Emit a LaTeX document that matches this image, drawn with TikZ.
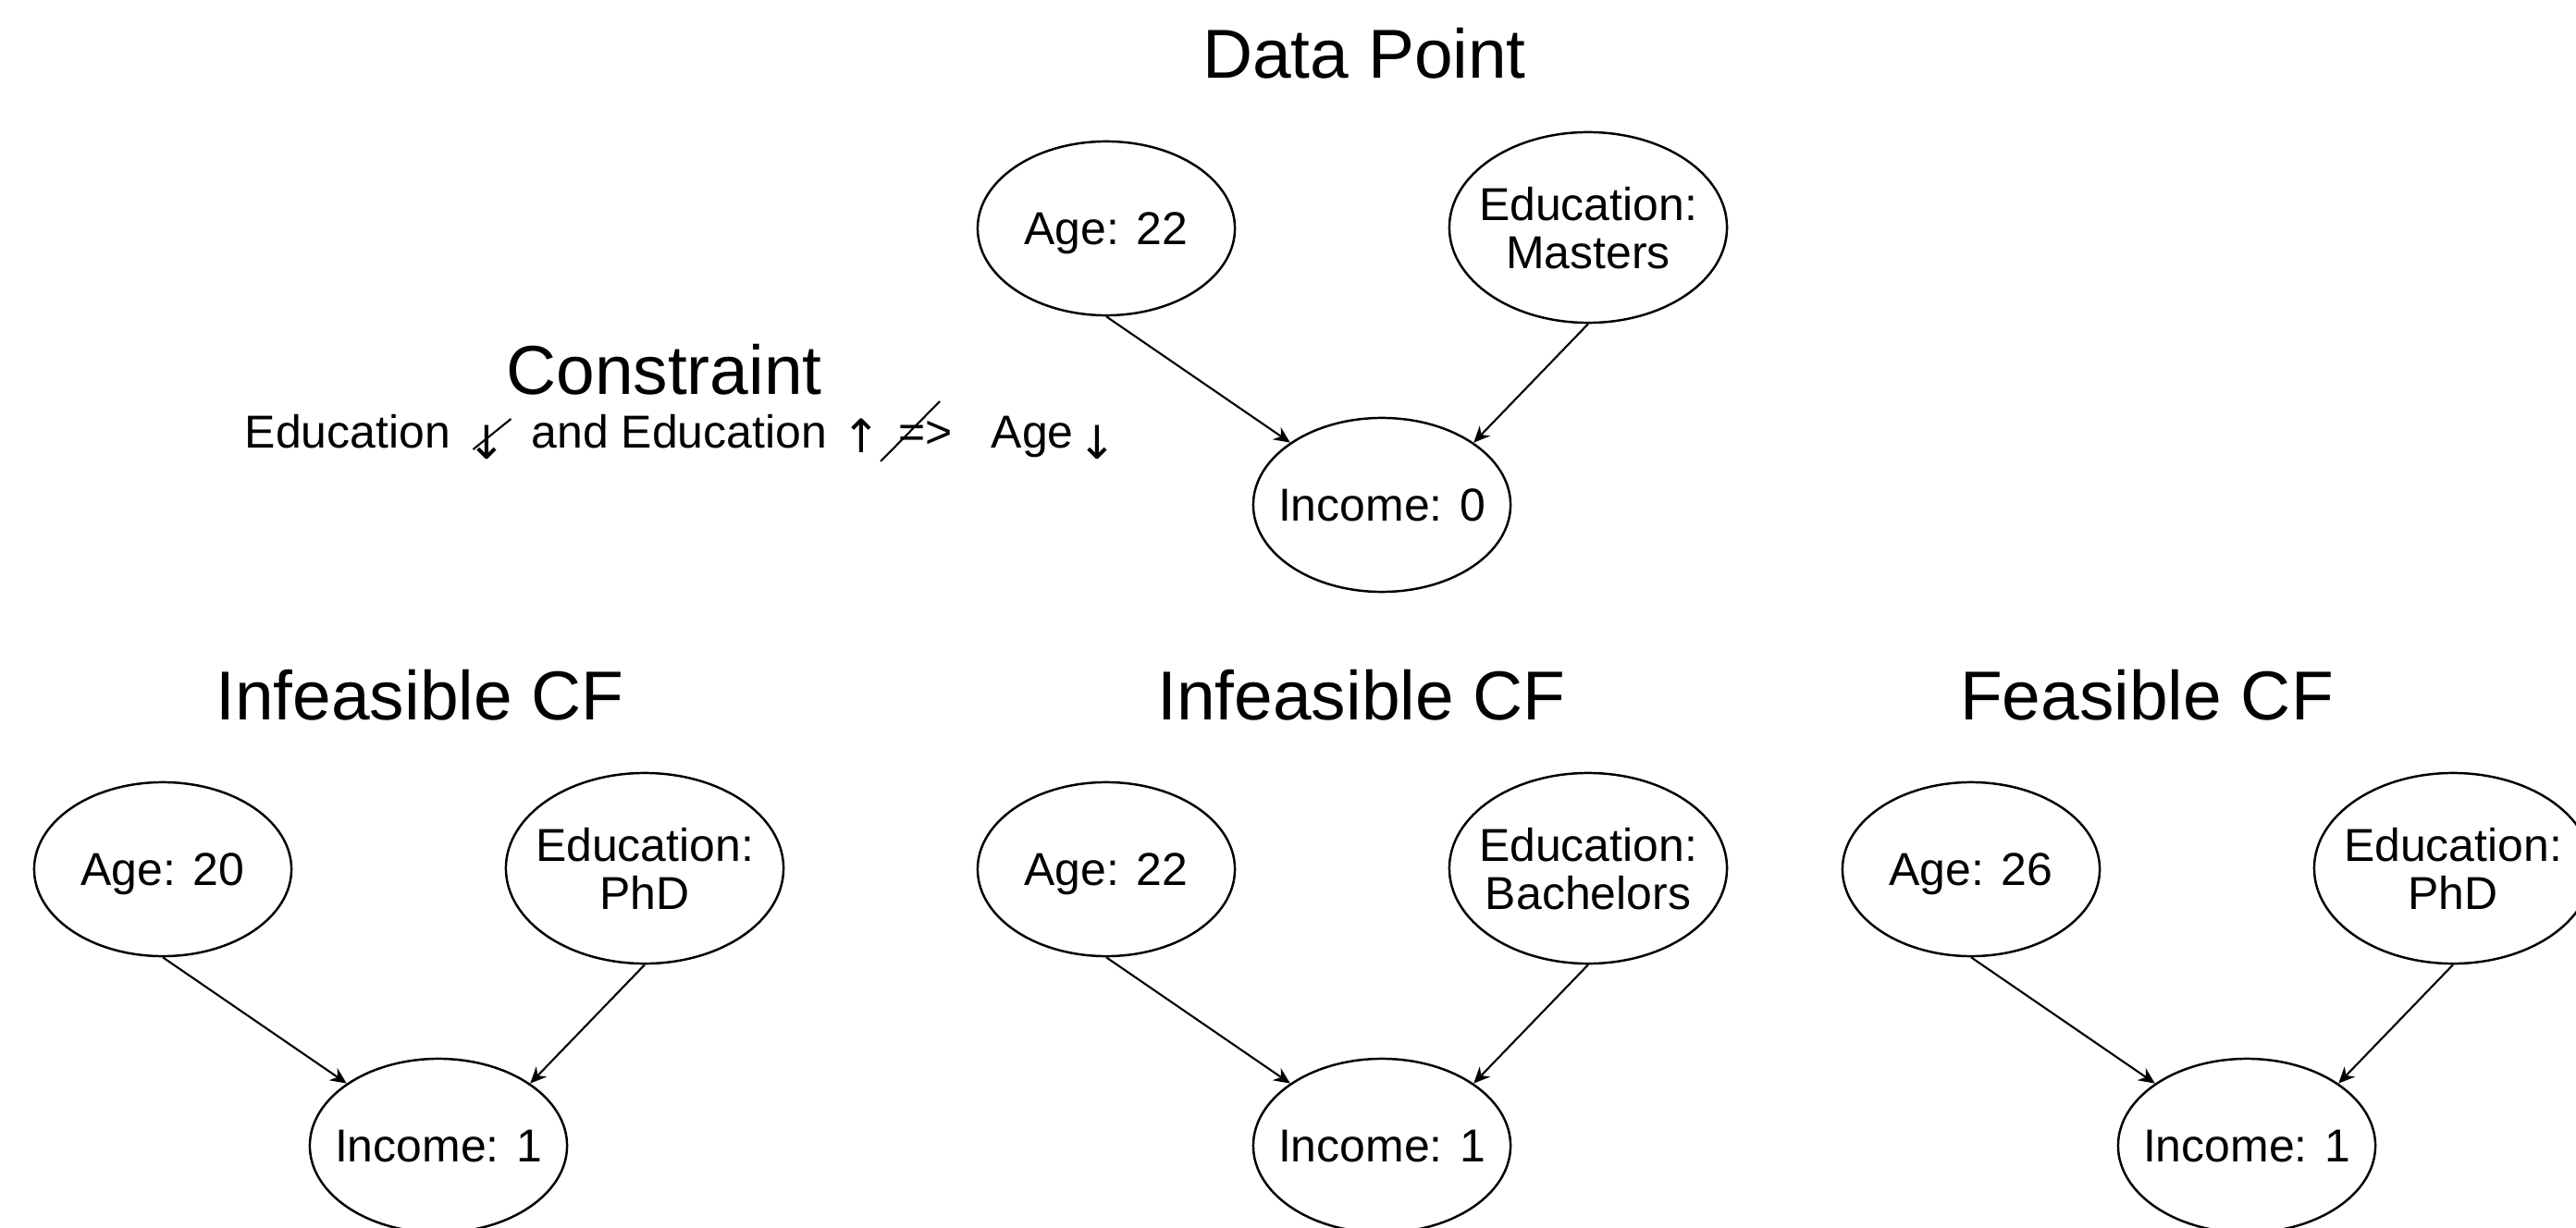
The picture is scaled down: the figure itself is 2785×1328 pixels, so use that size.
\documentclass[tikz,border=0pt]{standalone}
\usepackage{fontspec}
\setmainfont{Liberation Sans}
\newfontfamily\arrowfont{DejaVu Sans}
\usetikzlibrary{shapes.geometric,arrows.meta}

\tikzset{
  var/.style={draw, ellipse, line width=0.7pt, minimum width=2.78cm, minimum height=1.88cm,
    inner xsep=-0.15cm, inner ysep=0pt, text depth=0pt, align=center,
    font=\fontsize{14.2pt}{14.8pt}\selectfont},
  wvar/.style={var, minimum width=3cm, minimum height=2.06cm},
  head/.style={anchor=base, font=\fontsize{21.3pt}{25pt}\selectfont},
  cons/.style={anchor=base west, inner sep=0pt, font=\fontsize{14.2pt}{17pt}\selectfont},
  sym/.style={anchor=base, inner sep=0pt, font=\arrowfont\fontsize{14.2pt}{17pt}\selectfont},
  link/.style={-{Stealth[length=5pt,width=4.5pt]}, line width=0.6pt}
}

\begin{document}
\begin{tikzpicture}[x=0.01cm, y=-0.01cm]
        \useasboundingbox (0,0) rectangle (2785,1328);
        \clip (0,0) rectangle (2785,1328);

        \node[head] (dphead) at (1475,85)   {Data Point};              % data point
        \node[var]  (dpage)  at (1196,247)  {Age: 22};                 %
        \node[wvar] (dpedu)  at (1717,246)  {Education:\\Masters};     %
        \node[var]  (dpinc)  at (1494,546)  {Income: 0};               %
        \draw[link] (dpage.south) -- (dpinc.north west);               %
        \draw[link] (dpedu.south) -- (dpinc.north east);               %

        \node[head] (conhead)  at (718,427)   {Constraint};            % constraint
        \node[cons] (conedu)   at (264,485)   {Education};             %
        \node[sym]  (condown)  at (526,497)   {↓};                     %
        \node[cons] (conand)   at (574,485)   {and Education};         %
        \node[sym]  (conup)    at (931,490)   {↑};                     %
        \node[cons] (conimp)   at (971,485)   {=>};                    %
        \node[cons] (conage)   at (1071,485)  {Age};                   %
        \node[sym]  (condown2) at (1186,497)  {↓};                     %
        \draw[line width=0.6pt] (conedu.base east) ++(24,1) -- ++(41,-33);   % not
        \draw[line width=0.6pt] (conimp.base west) ++(-19,14) -- ++(64,-65); % not

        \node[head] (cfahead) at (454,778)   {Infeasible CF};          % CF 1
        \node[var]  (cfaage)  at (176,940)   {Age: 20};                %
        \node[wvar] (cfaedu)  at (697,939)   {Education:\\PhD};        %
        \node[var]  (cfainc)  at (474,1239)  {Income: 1};              %
        \draw[link] (cfaage.south) -- (cfainc.north west);             %
        \draw[link] (cfaedu.south) -- (cfainc.north east);             %

        \node[head] (cfbhead) at (1472,778)  {Infeasible CF};          % CF 2
        \node[var]  (cfbage)  at (1196,940)  {Age: 22};                %
        \node[wvar] (cfbedu)  at (1717,939)  {Education:\\Bachelors};  %
        \node[var]  (cfbinc)  at (1494,1239) {Income: 1};              %
        \draw[link] (cfbage.south) -- (cfbinc.north west);             %
        \draw[link] (cfbedu.south) -- (cfbinc.north east);             %

        \node[head] (cfchead) at (2321,778)  {Feasible CF};            % CF 3
        \node[var]  (cfcage)  at (2131,940)  {Age: 26};                %
        \node[wvar] (cfcedu)  at (2652,939)  {Education:\\PhD};        %
        \node[var]  (cfcinc)  at (2429,1239) {Income: 1};              %
        \draw[link] (cfcage.south) -- (cfcinc.north west);             %
        \draw[link] (cfcedu.south) -- (cfcinc.north east);             %
      \end{tikzpicture}
\end{document}
